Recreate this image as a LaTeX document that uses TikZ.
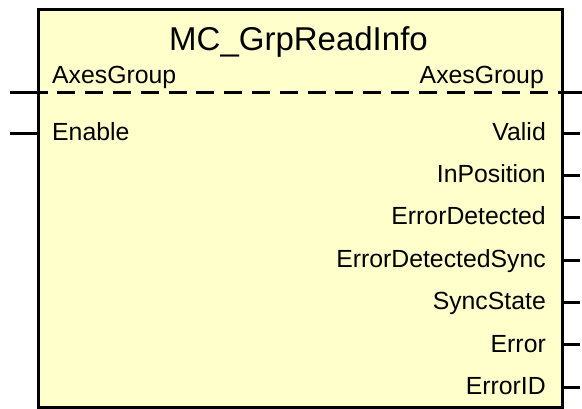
\documentclass[tikz,border=0pt]{standalone}
\usepackage{fontspec}
\setmainfont{Liberation Sans}
\definecolor{fbfill}{RGB}{255,255,204}
\begin{document}
\begin{tikzpicture}[x=1pt,y=-1pt,
  lbl/.style={inner sep=0pt, font=\fontsize{24.8}{28}\selectfont},
  ttl/.style={inner sep=0pt, font=\fontsize{33}{36}\selectfont},
  pin/.style={line width=3pt},
  ]
\useasboundingbox (0,0) rectangle (582,408);
\node[draw=black, line width=3.2pt, fill=fbfill, minimum width=524pt, minimum height=398pt, inner sep=0pt, anchor=north west] (blk) at (36.5,8) {};
\node[ttl, anchor=base] (title) at (298.5,50) {MC\_GrpReadInfo};
% inputs
\node[lbl, anchor=base west] (inAG) at (52,83) {AxesGroup};
\node[lbl, anchor=base west] (inEn) at (52,140) {Enable};
% outputs
\node[lbl, anchor=base east] (outAG) at (544,83) {AxesGroup};
\node[lbl, anchor=base east] (oValid) at (546,140) {Valid};
\node[lbl, anchor=base east] (oInPos) at (546,182) {InPosition};
\node[lbl, anchor=base east] (oErrDet) at (546,224) {ErrorDetected};
\node[lbl, anchor=base east] (oErrDetS) at (546,267) {ErrorDetectedSync};
\node[lbl, anchor=base east] (oSync) at (546,309) {SyncState};
\node[lbl, anchor=base east] (oErr) at (546,352) {Error};
\node[lbl, anchor=base east] (oErrID) at (546,394) {ErrorID};
% pin coordinates
\coordinate (agL) at (10,92);
\coordinate (agLi) at (36.5,92);
\coordinate (agRi) at (560.5,92);
\coordinate (agR) at (582,92);
\coordinate (enL) at (10,133);
\foreach \n/\y in {pValid/133, pInPos/175, pErrDet/217, pErrDetS/260, pSync/302, pErr/344, pErrID/387}{
  \coordinate (\n) at (580,\y);
}
% AxesGroup through-line
\draw[pin] (agL) -- (agLi);
\draw[pin, dash pattern=on 18pt off 9.8pt, dash phase=7pt] (agLi) -- (agRi);
\draw[pin] (agRi) -- (agR);
% Enable input
\draw[pin] (enL) -- (enL -| blk.west);
% outputs
\foreach \n in {pValid, pInPos, pErrDet, pErrDetS, pSync, pErr, pErrID}{
  \draw[pin] (\n -| blk.east) -- (\n);
}
\end{tikzpicture}
\end{document}
